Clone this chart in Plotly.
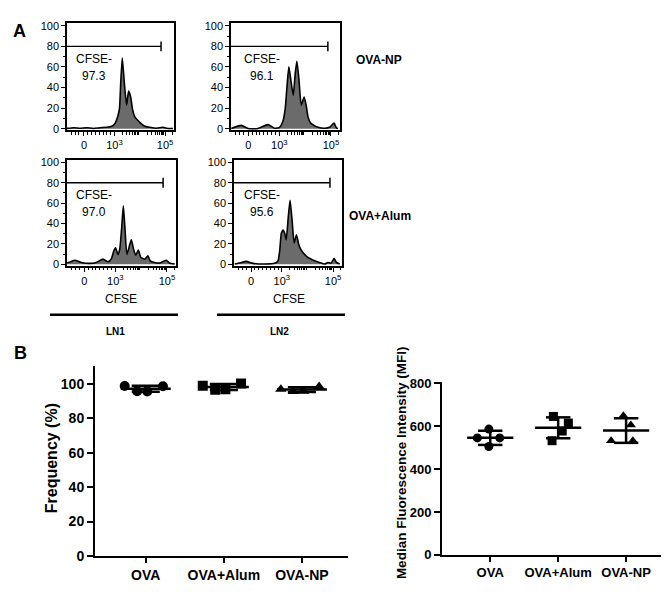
import numpy as np
import plotly.graph_objects as go

W, H = 669, 592
FONT = "Liberation Sans, Arial, sans-serif"

# ---------------- Panel A data (CFSE histograms, display scale units) ----------------
HIST_TICKVALS = [1.8, 3, 5]
HIST_TICKTEXT = ["0", "10<sup>3</sup>", "10<sup>5</sup>"]
HIST_MINOR = [1.3, 1.45, 1.6, 1.95, 2.1, 2.25, 2.4, 2.55, 2.7, 2.85,
              3.301, 3.477, 3.602, 3.699, 3.778, 3.845, 3.903, 3.954,
              4.301, 4.477, 4.602, 4.699, 4.778, 4.845, 4.903, 4.954, 5.301]
HIST_YTICKS = [0, 20, 40, 60, 80, 100]

# OVA-NP, LN1
TL_X = [1.13, 1.39, 1.65, 1.91, 2.17, 2.44, 2.70, 2.90, 3.03, 3.13, 3.20, 3.25, 3.31, 3.39,
        3.48, 3.56, 3.64, 3.72, 3.80, 3.90, 4.03, 4.20, 4.40, 4.66, 4.92, 5.05, 5.31]
TL_Y = [0.3, 1.0, 0.5, 1.0, 0.3, 1.0, 1.4, 2.4, 5.5, 11.8, 19.8, 45.0, 68.7, 45.0,
        22.9, 36.5, 30.8, 18.2, 11.8, 8.7, 5.5, 2.4, 1.4, 0.5, 1.4, 0.5, 0.2]
# OVA-NP, LN2
TR_X = [1.14, 1.53, 1.79, 2.17, 2.56, 2.82, 3.01, 3.14, 3.23, 3.31, 3.37, 3.46, 3.54, 3.62,
        3.68, 3.76, 3.85, 3.96, 4.04, 4.11, 4.21, 4.34, 4.50, 4.76, 4.95, 5.12, 5.21, 5.27]
TR_Y = [0.3, 3.3, 0.2, 0.2, 4.0, 0.5, 1.4, 7.2, 19.8, 45.0, 60.2, 45.0, 32.4, 54.5,
        65.6, 48.2, 22.9, 30.8, 22.9, 11.8, 5.5, 3.3, 1.4, 0.5, 1.4, 5.5, 0.8, 0.2]
# OVA+Alum, LN1
BL_X = [1.14, 1.43, 1.68, 2.01, 2.26, 2.52, 2.72, 2.85, 2.94, 3.01, 3.10, 3.17, 3.25, 3.31,
        3.37, 3.45, 3.56, 3.62, 3.71, 3.79, 3.89, 3.99, 4.14, 4.26, 4.35, 4.52, 4.72, 4.97,
        5.10, 5.30]
BL_Y = [1.3, 4.1, 1.9, 1.0, 1.9, 5.1, 2.5, 5.7, 13.0, 16.2, 9.8, 14.6, 36.8, 57.5,
        36.8, 9.8, 19.4, 24.1, 14.6, 8.9, 14.0, 6.7, 5.1, 8.3, 3.5, 1.9, 1.3, 4.1,
        1.3, 0.3]
# OVA+Alum, LN2
BR_X = [1.16, 1.42, 1.61, 1.87, 2.33, 2.72, 2.85, 2.92, 2.98, 3.05, 3.11, 3.17, 3.25, 3.32,
        3.40, 3.48, 3.57, 3.66, 3.74, 3.83, 3.92, 4.02, 4.15, 4.28, 4.47, 4.67, 4.80, 4.93,
        5.04, 5.13, 5.26]
BR_Y = [0.3, 1.9, 2.9, 1.0, 0.3, 1.0, 3.5, 14.6, 30.5, 33.7, 30.5, 24.1, 46.3, 62.9,
        43.2, 21.0, 28.9, 19.4, 14.6, 11.4, 8.9, 6.7, 5.1, 3.5, 1.9, 0.3, 1.9, 1.3,
        6.0, 1.9, 0.3]

CFSE_NEG = ["97.3", "96.1", "97.0", "95.6"]
GATE_LEVEL = 80
GATE_START = 1.13
GATE_END = [4.84, 4.88, 4.85, 4.88]
ROW_LABELS = ["OVA-NP", "OVA+Alum"]
COL_LABELS = ["LN1", "LN2"]

# ---------------- Panel B data ----------------
CATEGORIES = ["OVA", "OVA+Alum", "OVA-NP"]
FREQ_OVA = [98.8, 95.8, 95.7, 98.7]
FREQ_ALUM = [99.0, 96.6, 97.0, 100.3]
FREQ_NP = [97.0, 95.6, 95.8, 98.6]
MFI_OVA = [545, 586, 505, 545]
MFI_ALUM = [532, 645, 577, 614]
MFI_NP = [532, 648, 605, 532]
FREQ_TICKS = [0, 20, 40, 60, 80, 100]
MFI_TICKS = [0, 200, 400, 600, 800]

# horizontal scatter spread (style only)
FREQ_JITTER = [-0.27, -0.11, 0.02, 0.22]
MFI_JITTER = [[-0.19, -0.02, -0.02, 0.14],
              [-0.09, -0.07, 0.06, 0.15],
              [-0.22, -0.04, 0.07, 0.10]]
SYMBOLS = ["circle", "square", "triangle-up"]


def xd(a, b):
    return [a / W, b / W]


def yd(top, bottom):
    return [1 - bottom / H, 1 - top / H]


fig = go.Figure()
layout = {}
annotations = []
shapes = []

hists = [(TL_X, TL_Y), (TR_X, TR_Y), (BL_X, BL_Y), (BR_X, BR_Y)]
boxes = [(59, 166, 9.4, 119.1), (223, 332, 9.4, 119.1),
         (59, 168, 149.3, 258), (226, 334, 149.3, 258)]
cfse_pos = [(0.25, 0.665, 0.505), (0.28, 0.665, 0.505),
            (0.25, 0.67, 0.505), (0.26, 0.67, 0.505)]

for i, ((hx, hy), (l, r, t, b)) in enumerate(zip(hists, boxes)):
    n = i + 1
    xa = "x" if n == 1 else f"x{n}"
    ya = "y" if n == 1 else f"y{n}"
    fig.add_trace(go.Scatter(x=hx, y=hy, xaxis=xa, yaxis=ya, mode="lines",
                             fill="tozeroy", fillcolor="#6b6b6b",
                             line=dict(color="black", width=1.6, shape="spline", smoothing=0.5),
                             hoverinfo="skip"))
    fig.add_trace(go.Scatter(x=[GATE_START, GATE_END[i]], y=[GATE_LEVEL, GATE_LEVEL],
                             xaxis=xa, yaxis=ya, mode="lines",
                             line=dict(color="black", width=1.3), hoverinfo="skip"))
    fig.add_trace(go.Scatter(x=[GATE_END[i]], y=[GATE_LEVEL], xaxis=xa, yaxis=ya,
                             mode="markers",
                             marker=dict(symbol="line-ns", size=7,
                                         line=dict(width=1.5, color="black")),
                             hoverinfo="skip"))
    layout["xaxis" if n == 1 else f"xaxis{n}"] = dict(
        domain=xd(l, r), range=[1.13, 5.35], anchor=ya,
        tickvals=HIST_TICKVALS, ticktext=HIST_TICKTEXT,
        ticks="outside", ticklen=4, tickwidth=1.3, tickcolor="black",
        showline=True, linewidth=1.5, linecolor="black", mirror=True,
        showgrid=False, zeroline=False,
        tickfont=dict(family=FONT, size=11, color="black"),
        minor=dict(tickvals=HIST_MINOR, ticklen=2.5, tickwidth=1, ticks="outside",
                   tickcolor="black", showgrid=False))
    layout["yaxis" if n == 1 else f"yaxis{n}"] = dict(
        domain=yd(t, b), range=[-1.5, 102.5], anchor=xa,
        tickvals=HIST_YTICKS, ticks="outside", ticklen=4, tickwidth=1.3, tickcolor="black",
        showline=True, linewidth=1.5, linecolor="black", mirror=True,
        showgrid=False, zeroline=False,
        tickfont=dict(family=FONT, size=11, color="black"),
        minor=dict(dtick=10, ticklen=2.5, tickwidth=1, ticks="outside",
                   tickcolor="black", showgrid=False))
    fx, fy1, fy2 = cfse_pos[i]
    annotations.append(dict(text="CFSE-", xref=f"{xa} domain", yref=f"{ya} domain",
                            x=fx, y=fy1, showarrow=False, xanchor="center", yanchor="middle",
                            font=dict(family=FONT, size=12, color="black")))
    annotations.append(dict(text=CFSE_NEG[i], xref=f"{xa} domain", yref=f"{ya} domain",
                            x=fx, y=fy2, showarrow=False, xanchor="center", yanchor="middle",
                            font=dict(family=FONT, size=12, color="black")))


def pann(text, px, py, size, bold=True, angle=0):
    annotations.append(dict(text=f"<b>{text}</b>" if bold else text,
                            xref="paper", yref="paper", x=px / W, y=1 - py / H,
                            showarrow=False, xanchor="center", yanchor="middle",
                            textangle=angle,
                            font=dict(family=FONT, size=size, color="black")))


pann("A", 11, 17, 18)
pann("B", 12, 347, 18)
pann(ROW_LABELS[0], 371, 47, 12)
pann(ROW_LABELS[1], 372, 207, 12)
pann("CFSE", 113, 292, 12, bold=False)
pann("CFSE", 281, 292, 12, bold=False)
pann(COL_LABELS[0], 107, 325, 10)
pann(COL_LABELS[1], 271, 325, 10)
for (a, b_) in [(42, 170), (209, 337)]:
    shapes.append(dict(type="line", xref="paper", yref="paper",
                       x0=a / W, x1=b_ / W, y0=1 - 308 / H, y1=1 - 308 / H,
                       line=dict(color="black", width=2.5)))

# ---------------- Panel B ----------------
freq_groups = [FREQ_OVA, FREQ_ALUM, FREQ_NP]
mfi_groups = [MFI_OVA, MFI_ALUM, MFI_NP]


def add_dot_plot(groups, jitters, xa, ya, msize, mean_hw, sd_hw):
    for gi, vals in enumerate(groups):
        vals = np.array(vals, dtype=float)
        jit = jitters[gi] if isinstance(jitters[0], list) else jitters
        m = vals.mean()
        s = vals.std(ddof=1)
        fig.add_trace(go.Scatter(x=[gi - sd_hw, gi + sd_hw, None, gi, gi, None,
                                    gi - sd_hw, gi + sd_hw],
                                 y=[m + s, m + s, None, m + s, m - s, None, m - s, m - s],
                                 xaxis=xa, yaxis=ya, mode="lines",
                                 line=dict(color="black", width=2.5), hoverinfo="skip"))
        fig.add_trace(go.Scatter(x=[gi + j for j in jit], y=vals, xaxis=xa, yaxis=ya,
                                 mode="markers",
                                 marker=dict(symbol=SYMBOLS[gi], size=msize, color="black"),
                                 hoverinfo="skip"))
        fig.add_trace(go.Scatter(x=[gi - mean_hw, gi + mean_hw], y=[m, m],
                                 xaxis=xa, yaxis=ya, mode="lines",
                                 line=dict(color="black", width=2.5), hoverinfo="skip"))


add_dot_plot(freq_groups, FREQ_JITTER, "x5", "y5", 10, 0.32, 0.18)
add_dot_plot(mfi_groups, MFI_JITTER, "x6", "y6", 9, 0.34, 0.18)

common_b = dict(showline=True, linewidth=2, linecolor="black", ticks="outside",
                tickwidth=2, tickcolor="black", showgrid=False, zeroline=False)

layout["xaxis5"] = dict(domain=xd(87, 340), range=[-0.65, 2.59], anchor="y5",
                        tickvals=[0, 1, 2], ticktext=[f"<b>{c}</b>" for c in CATEGORIES],
                        ticklen=5, tickfont=dict(family=FONT, size=14, color="black"),
                        **common_b)
layout["yaxis5"] = dict(domain=yd(361, 555), range=[0, 110.2], anchor="x5",
                        tickvals=FREQ_TICKS, ticktext=[f"<b>{v}</b>" for v in FREQ_TICKS],
                        ticklen=6, tickfont=dict(family=FONT, size=14, color="black"),
                        **common_b)
layout["xaxis6"] = dict(domain=xd(434, 667), range=[-0.71, 2.72], anchor="y6",
                        tickvals=[0, 1, 2], ticktext=[f"<b>{c}</b>" for c in CATEGORIES],
                        ticklen=5, tickfont=dict(family=FONT, size=13, color="black"),
                        **common_b)
layout["yaxis6"] = dict(domain=yd(377, 554), range=[0, 805], anchor="x6",
                        tickvals=MFI_TICKS, ticktext=[f"<b>{v}</b>" for v in MFI_TICKS],
                        ticklen=6, tickfont=dict(family=FONT, size=13, color="black"),
                        **common_b)

pann("Frequency (%)", 43, 455, 16, angle=-90)
pann("Median Fluorescence Intensity (MFI)", 393, 460, 13.5, angle=-90)

fig.update_layout(width=W, height=H, margin=dict(l=0, r=0, t=0, b=0),
                  paper_bgcolor="white", plot_bgcolor="white", showlegend=False,
                  annotations=annotations, shapes=shapes,
                  font=dict(family=FONT, color="black"), **layout)

fig.write_html("out.html")
